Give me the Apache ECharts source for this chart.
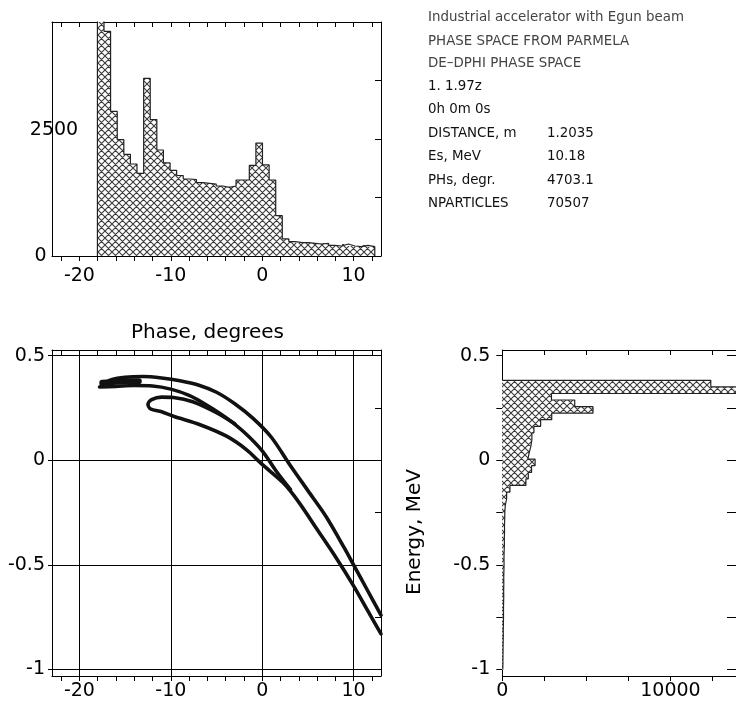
<!DOCTYPE html>
<html><head><meta charset="utf-8">
<script src="https://cdn.jsdelivr.net/npm/echarts@6/dist/echarts.min.js"></script>
<style>html,body{margin:0;padding:0;background:#fff}#c{width:736px;height:701px}</style>
</head><body><div id="c"></div>
<script>
// ---- Phase histogram (top) ----
const phaseEdges = [-18.03,-17.31,-16.59,-15.86,-15.14,-14.42,-13.70,-12.97,-12.25,-11.53,-10.81,-10.08,-9.36,-8.64,-7.92,-7.19,-6.47,-5.75,-5.03,-4.30,-3.58,-2.86,-2.14,-1.41,-0.69,0.03,0.76,1.48,2.20,2.92,3.65,4.37,5.09,5.81,6.54,7.26,7.98,8.70,9.43,10.15,10.87,11.59,12.32];
const phaseCounts = [5300,4800,3090,2485,2173,1966,1767,3797,2915,2265,1990,1830,1720,1645,1630,1567,1553,1539,1496,1467,1496,1624,1624,1935,2412,1945,1624,861,365,306,285,285,271,256,271,228,214,256,214,199,228,199];

// ---- Energy histogram (bottom right) ----
const energyEdges = [0.382,0.351,0.319,0.288,0.256,0.225,0.194,0.162,0.131,0.099,0.068,0.037,0.005,-0.026,-0.058,-0.089,-0.120,-0.152,-0.183,-0.215,-0.246,-0.277,-0.309,-0.340,-0.372,-0.403,-0.434,-0.466,-0.497,-0.529,-0.560,-0.591,-0.623,-0.654,-0.686,-0.717,-0.748,-0.780,-0.811,-0.843,-0.874,-0.905,-0.937,-0.968,-1.000];
const energyCounts = [12400,16000,2924,4308,5394,2940,2280,1880,1760,1700,1600,1520,1950,1740,1545,1403,454,257,180,150,145,130,135,120,125,110,100,105,95,85,90,80,85,75,70,72,65,58,60,50,45,40,38,30];

// ---- Phase space bands (phase deg, energy MeV) ----
const bandUpper = [[-17.6,0.36],[-16.5,0.385],[-15,0.397],[-13,0.4],[-11,0.393],[-9,0.38],[-7,0.36],[-5,0.325],[-3,0.27],[-1,0.2],[1,0.11],[3,-0.02],[5,-0.145],[7,-0.27],[9,-0.42],[10,-0.5],[11.5,-0.62],[13,-0.74]];
const bandMiddle = [[-17.8,0.35],[-16,0.353],[-14,0.357],[-12,0.355],[-10,0.34],[-8,0.31],[-6,0.262],[-4,0.205],[-2,0.135],[0,0.045],[1.5,-0.05],[3.1,-0.14]];
const bandHook = [[-3,0.175],[-5,0.228],[-7.6,0.28],[-9.7,0.3],[-11,0.302],[-12.1,0.29],[-12.5,0.268],[-12.2,0.245],[-11,0.232],[-9.7,0.21],[-6.8,0.17],[-3.9,0.115],[-1.7,0.05],[0,-0.02],[2.3,-0.108],[4,-0.2],[6,-0.33],[8,-0.46],[10,-0.6],[11.5,-0.715],[13,-0.83]];
const blobCore = [[-17.5,0.37],[-16,0.375],[-14.5,0.378],[-13.5,0.378]];

// ---- Ticks and labels ----
const phaseMinorTicks = [-22,-20,-18,-16,-14,-12,-10,-8,-6,-4,-2,0,2,4,6,8,10,12];
const phaseLabels = [-20,-10,0,10];
const countTicksTop = [0,1250,2500,3750,5000];
const countLabelsTop = [0,2500];
const energyLabels = [-1,-0.5,0,0.5];
const energyTicks = [-1,-0.75,-0.5,-0.25,0,0.25,0.5];
const countTicksRight = [0,2500,5000,7500,10000,12500];
const countLabelsRight = [0,10000];

const infoLines = ['Industrial accelerator with Egun beam','PHASE SPACE FROM PARMELA','DE\u2013DPHI PHASE SPACE','1. 1.97z','0h 0m 0s','DISTANCE, m','Es, MeV','PHs, degr.','NPARTICLES'];
const infoValues = ['1.2035','10.18','4703.1','70507'];
const plotTitle = 'Phase, degrees';
const energyName = 'Energy, MeV';

// ---- styling ----
const FONT = 'DejaVu Sans';
const hatchCanvas = (function(){
  const c = document.createElement('canvas'); c.width = 7; c.height = 7;
  const g = c.getContext('2d');
  g.fillStyle = '#fff'; g.fillRect(0,0,7,7);
  g.strokeStyle = '#3a3a3a'; g.lineWidth = 1.1; g.beginPath();
  [-7,0,7].forEach(function(o){ g.moveTo(o,0); g.lineTo(o+7,7); g.moveTo(o+7,0); g.lineTo(o,7); });
  g.stroke();
  return c;
})();
const hatch = {image: hatchCanvas, repeat: 'repeat'};

const topData = phaseCounts.map((c,i)=>[phaseEdges[i], phaseEdges[i+1], c]);
const topOutline = [[phaseEdges[0],0]];
phaseCounts.forEach((c,i)=>{ topOutline.push([phaseEdges[i],c]); topOutline.push([phaseEdges[i+1],c]); });
topOutline.push([phaseEdges[phaseEdges.length-1],0]);

const rightData = energyCounts.map((c,i)=>[energyEdges[i], energyEdges[i+1], c]);
const rightOutline = [[0,energyEdges[0]]];
energyCounts.forEach((c,i)=>{ rightOutline.push([c,energyEdges[i]]); rightOutline.push([c,energyEdges[i+1]]); });
rightOutline.push([0,energyEdges[energyEdges.length-1]]);

const lab = {fontFamily: FONT, fontSize: 19, color: '#000'};
const blk = {color:'#000', width:1};
const fmt = v => String(v);

function xAx(grid, min, max, pos, ticks, labels, inside, margin){
  return {type:'value', gridIndex:grid, min:min, max:max, position:pos,
    axisLine:{show:true, onZero:false, lineStyle:blk},
    axisTick:{show:true, inside:inside, length:5, customValues:ticks, lineStyle:blk},
    axisLabel: labels ? Object.assign({show:true, customValues:labels, margin:margin, formatter:fmt}, lab) : {show:false},
    splitLine:{show:false}};
}
function gridLines(kind, grid, min, max, vals){
  return {type:'value', gridIndex:grid, min:min, max:max, position: kind==='x'?'bottom':'left',
    axisLine:{show:false}, axisTick:{show:false, customValues:vals}, axisLabel:{show:false},
    splitLine:{show:true, lineStyle:{color:'#000', width:1}}};
}

const EMIN = -1.031, EMAX = 0.527;
const option = {
  animation:false,
  backgroundColor:'#fff',
  grid:[
    {left:52, top:22, width:329, height:234},
    {left:52, top:350, width:329, height:326},
    {left:502.3, top:350, width:234.5, height:326}
  ],
  xAxis:[
    xAx(0,-23,13,'bottom',phaseMinorTicks,phaseLabels,false,11),
    xAx(0,-23,13,'top',phaseMinorTicks,null,true),
    xAx(1,-23,13,'bottom',phaseMinorTicks,phaseLabels,false,6),
    xAx(1,-23,13,'top',phaseMinorTicks,null,true),
    gridLines('x',1,-23,13,phaseLabels),
    xAx(2,0,13900,'bottom',countTicksRight,countLabelsRight,false,6),
    xAx(2,0,13900,'top',countTicksRight,null,true)
  ],
  yAxis:[
    {type:'value', gridIndex:0, min:0, max:5000, position:'left',
      axisLine:{show:true, onZero:false, lineStyle:blk}, axisTick:{show:false, customValues:countLabelsTop},
      axisLabel:Object.assign({show:true, customValues:countLabelsTop, margin:11.5, align:'center',
        formatter: v => v===2500 ? '{s|2500}' : String(v),
        rich:{s:{fontFamily:FONT, fontSize:19, color:'#000', padding:[0,0,17,27]}}}, lab),
      splitLine:{show:false}},
    {type:'value', gridIndex:0, min:0, max:5000, position:'right',
      axisLine:{show:true, onZero:false, lineStyle:blk}, axisTick:{show:true, inside:true, length:6, customValues:countTicksTop, lineStyle:blk},
      axisLabel:{show:false}, splitLine:{show:false}},
    {type:'value', gridIndex:1, min:EMIN, max:EMAX, position:'left',
      axisLine:{show:true, onZero:false, lineStyle:blk}, axisTick:{show:true, length:4, customValues:energyLabels, lineStyle:blk},
      axisLabel:Object.assign({show:true, customValues:energyLabels, margin:7, formatter:fmt}, lab), splitLine:{show:false}},
    {type:'value', gridIndex:1, min:EMIN, max:EMAX, position:'right',
      axisLine:{show:true, onZero:false, lineStyle:blk}, axisTick:{show:true, inside:true, length:6, customValues:energyTicks, lineStyle:blk},
      axisLabel:{show:false}, splitLine:{show:false}},
    gridLines('y',1,EMIN,EMAX,energyLabels),
    {type:'value', gridIndex:2, min:EMIN, max:EMAX, position:'left',
      axisLine:{show:true, onZero:false, lineStyle:blk}, axisTick:{show:true, length:6, customValues:energyTicks, lineStyle:blk},
      axisLabel:Object.assign({show:true, customValues:energyLabels, margin:12, formatter:fmt}, lab), splitLine:{show:false}},
    {type:'value', gridIndex:2, min:EMIN, max:EMAX, position:'right',
      axisLine:{show:true, onZero:false, lineStyle:blk}, axisTick:{show:true, inside:true, length:9, customValues:energyTicks, lineStyle:blk},
      axisLabel:{show:false}, splitLine:{show:false}}
  ],
  graphic:[].concat(
    infoLines.map((t,i)=>({type:'text', x:428, y:[18,41.5,64,86.5,110,133.5,157,180.5,204][i],
      style:{text:t, fontFamily:FONT, fontSize:13.4, fill: i<3 ? '#444' : '#111', textAlign:'left', textVerticalAlign:'middle'}})),
    infoValues.map((t,i)=>({type:'text', x:547, y:[133.5,157,180.5,204][i],
      style:{text:t, fontFamily:FONT, fontSize:13.4, fill:'#111', textAlign:'left', textVerticalAlign:'middle'}})),
    [{type:'text', x:207.5, y:333, style:{text:plotTitle, fontFamily:FONT, fontSize:20, fill:'#000', textAlign:'center', textVerticalAlign:'middle'}},
     {type:'text', x:415, y:532, rotation:Math.PI/2, style:{text:energyName, fontFamily:FONT, fontSize:20, fill:'#000', textAlign:'center', textVerticalAlign:'middle'}}]
  ),
  series:[
    {type:'custom', xAxisIndex:0, yAxisIndex:0, clip:true, data:topData, encode:{x:[0,1], y:2},
      renderItem:function(params, api){
        const p0 = api.coord([api.value(0), 0]);
        const p1 = api.coord([api.value(1), api.value(2)]);
        const x0 = Math.round(p0[0]), x1 = Math.round(p1[0]), y0 = Math.round(p0[1]), y1 = Math.round(p1[1]);
        return {type:'rect', shape:{x:x0, y:y1, width:x1-x0, height:y0-y1}, style:{fill:hatch, stroke:null}};
      }},
    {type:'line', xAxisIndex:0, yAxisIndex:0, data:topOutline, symbol:'none', clip:true,
      lineStyle:{color:'#222', width:1.2}},
    {type:'custom', xAxisIndex:5, yAxisIndex:5, clip:true, data:rightData, encode:{y:[0,1], x:2},
      renderItem:function(params, api){
        const p0 = api.coord([0, api.value(0)]);
        const p1 = api.coord([api.value(2), api.value(1)]);
        const x0 = Math.round(p0[0]), x1 = Math.round(p1[0]), y0 = Math.round(p0[1]), y1 = Math.round(p1[1]);
        return {type:'rect', shape:{x:x0, y:y0, width:x1-x0, height:y1-y0}, style:{fill:hatch, stroke:null}};
      }},
    {type:'line', xAxisIndex:5, yAxisIndex:5, data:rightOutline, symbol:'none', clip:true,
      lineStyle:{color:'#222', width:1.2}},
    {type:'line', xAxisIndex:2, yAxisIndex:2, data:blobCore, symbol:'none', smooth:0.3, clip:true,
      lineStyle:{color:'#111', width:6, cap:'round'}},
    {type:'line', xAxisIndex:2, yAxisIndex:2, data:bandUpper, symbol:'none', smooth:0.3, clip:true,
      lineStyle:{color:'#111', width:3.6, cap:'round'}},
    {type:'line', xAxisIndex:2, yAxisIndex:2, data:bandMiddle, symbol:'none', smooth:0.3, clip:true,
      lineStyle:{color:'#111', width:3.6, cap:'round'}},
    {type:'line', xAxisIndex:2, yAxisIndex:2, data:bandHook, symbol:'none', smooth:0.3, clip:true,
      lineStyle:{color:'#111', width:3.6, cap:'round'}}
  ]
};
const chart = echarts.init(document.getElementById('c'), null, {renderer:'canvas'});
chart.setOption(option);
</script>
</body></html>
